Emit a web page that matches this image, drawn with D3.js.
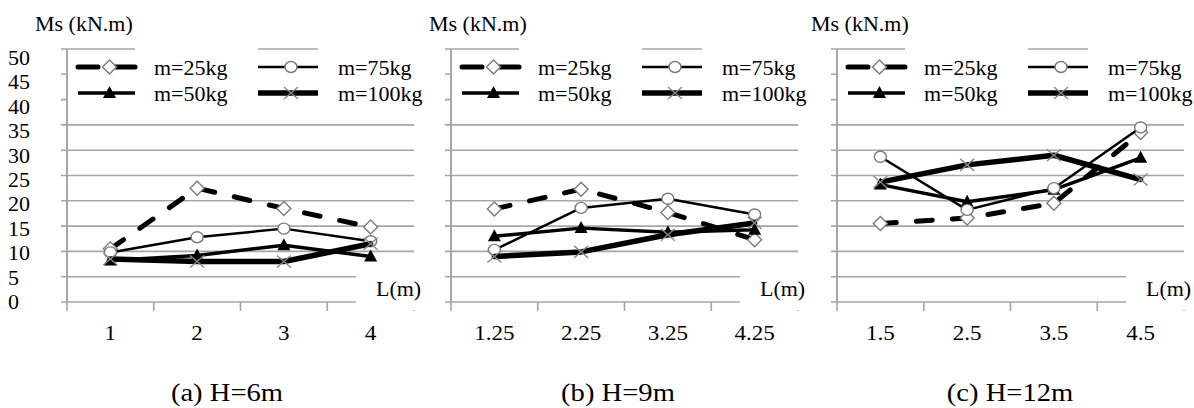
<!DOCTYPE html>
<html>
<head>
<meta charset="utf-8">
<script src="https://cdn.jsdelivr.net/npm/d3@7"></script>
<style>
  body { margin: 0; background: #fff; }
  svg text { fill: #000; }
</style>
</head>
<body>
<div id="chart"></div>
<script>
// ---- data ----
const captions = ["(a) H=6m", "(b) H=9m", "(c) H=12m"];
const lengths = [
  ["1", "2", "3", "4"],
  ["1.25", "2.25", "3.25", "4.25"],
  ["1.5", "2.5", "3.5", "4.5"]
];
const seriesNames = ["m=25kg", "m=50kg", "m=75kg", "m=100kg"];
const m25 = [[10.5, 22.5, 18.5, 14.8], [18.4, 22.3, 17.7, 12.3], [15.5, 16.6, 19.5, 33.5]];
const m50 = [[8.2, 9.2, 11.2, 9.0], [13.0, 14.6, 13.8, 14.3], [23.2, 19.8, 22.2, 28.5]];
const m75 = [[9.8, 12.8, 14.5, 12.0], [10.3, 18.6, 20.4, 17.3], [28.7, 18.2, 22.5, 34.5]];
const m100 = [[8.5, 8.0, 8.0, 11.5], [9.0, 9.9, 13.3, 15.6], [23.7, 27.1, 29.0, 24.2]];
const yTicks = [0, 5, 10, 15, 20, 25, 30, 35, 40, 45, 50];
const yTitle = "Ms (kN.m)";
const xTitle = "L(m)";

const W = 1194, H = 408;
const SX = 1.1; // the source figure is slightly stretched sideways
const panelLeft = [67, 451, 837];
const panelWidth = 347;
const titleX = [35, 429, 811];
const captionX = [227, 618, 1010];
const gridCol = "#a6a6a6";

const svg = d3.select("#chart").append("svg")
  .attr("width", W).attr("height", H)
  .style("display", "block");

const y = d3.scaleLinear().domain([0, 50]).range([302, 49]);
// tick labels sit on a slightly tighter spacing than the grid in the source
const yLab = d3.scaleLinear().domain([0, 50]).range([309, 65]);

function txt(g, x, yy, s, size, anchor) {
  return g.append("text")
    .attr("transform", `translate(${x},${yy}) scale(${SX},1)`)
    .attr("text-anchor", anchor || "start")
    .attr("font-family", "'Liberation Serif', 'Times New Roman', serif")
    .style("font-size", size + "px")
    .text(s);
}

const styles = {
  "m=25kg": { w: 5, dash: "16,20", marker: "diamond" },
  "m=50kg": { w: 3.5, dash: null, marker: "triangle" },
  "m=75kg": { w: 2.5, dash: null, marker: "circle" },
  "m=100kg": { w: 5.5, dash: null, marker: "cross" }
};

function drawMarker(g, kind, cx, cy) {
  if (kind === "diamond") {
    g.append("path").attr("d", `M${cx},${cy - 7}L${cx + 7},${cy}L${cx},${cy + 7}L${cx - 7},${cy}Z`)
      .attr("fill", "#fff").attr("stroke", "#7a7a7a").attr("stroke-width", 1.4);
  } else if (kind === "triangle") {
    g.append("path").attr("d", `M${cx},${cy - 7}L${cx + 6.5},${cy + 5}L${cx - 6.5},${cy + 5}Z`)
      .attr("fill", "#000");
  } else if (kind === "circle") {
    g.append("ellipse").attr("cx", cx).attr("cy", cy).attr("rx", 6).attr("ry", 5.5)
      .attr("fill", "#fff").attr("stroke", "#7a7a7a").attr("stroke-width", 1.4);
  } else {
    g.append("path").attr("d", `M${cx - 7},${cy - 6}L${cx + 7},${cy + 6}M${cx - 7},${cy + 6}L${cx + 7},${cy - 6}`)
      .attr("stroke", "#8a8a8a").attr("stroke-width", 1.4).attr("fill", "none");
  }
}

captions.forEach((cap, p) => {
  const left = panelLeft[p];
  const right = left + panelWidth;
  const g = svg.append("g");

  const x = d3.scaleBand().domain(lengths[p]).range([left, right]);
  const cx = (d) => x(d) + x.bandwidth() / 2;

  // gridlines + y ticks
  yTicks.forEach((v) => {
    g.append("line")
      .attr("x1", left - 6).attr("x2", right)
      .attr("y1", y(v)).attr("y2", y(v))
      .attr("stroke", gridCol).attr("stroke-width", 1.6);
  });

  // x axis ticks at category boundaries
  const bounds = lengths[p].map((d) => x(d)).concat([right]);
  bounds.forEach((bx) => {
    g.append("line").attr("x1", bx).attr("x2", bx)
      .attr("y1", y(0)).attr("y2", y(0) + 9)
      .attr("stroke", gridCol).attr("stroke-width", 1.6);
  });

  // y axis line
  g.append("line").attr("x1", left).attr("x2", left)
    .attr("y1", y(50)).attr("y2", y(0) + 1)
    .attr("stroke", gridCol).attr("stroke-width", 2);

  // legend backdrop hides the upper gridlines
  const k1a = left + 11, k1b = left + 68, k2a = left + 191, k2b = left + 251;
  g.append("rect").attr("x", left + 1.2).attr("y", y(50) + 1).attr("width", right - left).attr("height", 60).attr("fill", "#fff");
  g.append("rect").attr("x", k1b).attr("y", y(50) - 2).attr("width", k2a - k1b).attr("height", 8).attr("fill", "#fff");
  g.append("rect").attr("x", k2b).attr("y", y(50) - 2).attr("width", right - k2b + 2).attr("height", 8).attr("fill", "#fff");

  // L(m) label box
  g.append("rect").attr("x", right - 58).attr("y", 262).attr("width", 62).attr("height", 48).attr("fill", "#fff");
  txt(g, right - 38, 296, xTitle, 20);

  // y title
  txt(g, titleX[p], 31, yTitle, 20);

  // y tick labels only on the first panel
  if (p === 0) {
    yTicks.forEach((v) => txt(g, 8, yLab(v), String(v), 20));
  }

  // category labels
  lengths[p].forEach((d) => txt(g, cx(d), 340, d, 21, "middle"));

  // caption
  txt(g, captionX[p], 401, cap, 26, "middle");

  // series
  const all = [m25[p], m50[p], m75[p], m100[p]];
  const line = d3.line().x((d, i) => cx(lengths[p][i])).y((d) => y(d));
  all.forEach((vals, s) => {
    const st = styles[seriesNames[s]];
    g.append("path").attr("d", line(vals))
      .attr("fill", "none").attr("stroke", "#000")
      .attr("stroke-width", st.w)
      .attr("stroke-linejoin", "round")
      .attr("stroke-linecap", "round")
      .attr("stroke-dasharray", st.dash);
    vals.forEach((v, i) => drawMarker(g, st.marker, cx(lengths[p][i]), y(v)));
  });

  // legend: two columns, order 25 / 75 on top, 50 / 100 below
  const legendOrder = [["m=25kg", 0, 0], ["m=75kg", 1, 0], ["m=50kg", 0, 1], ["m=100kg", 1, 1]];
  legendOrder.forEach(([name, col, row]) => {
    const st = styles[name];
    const a = col ? k2a : k1a, b = col ? k2b : k1b;
    const ly = 67 + row * 26;
    g.append("line").attr("x1", a).attr("x2", b).attr("y1", ly).attr("y2", ly)
      .attr("stroke", "#000").attr("stroke-width", st.w)
      .attr("stroke-linecap", st.dash ? "round" : "butt")
      .attr("stroke-dasharray", st.dash ? "20,18" : null);
    drawMarker(g, st.marker, (a + b) / 2 + 3, ly);
    txt(g, col ? left + 271 : left + 87, ly + 8, name, 20);
  });
});
</script>
</body>
</html>
